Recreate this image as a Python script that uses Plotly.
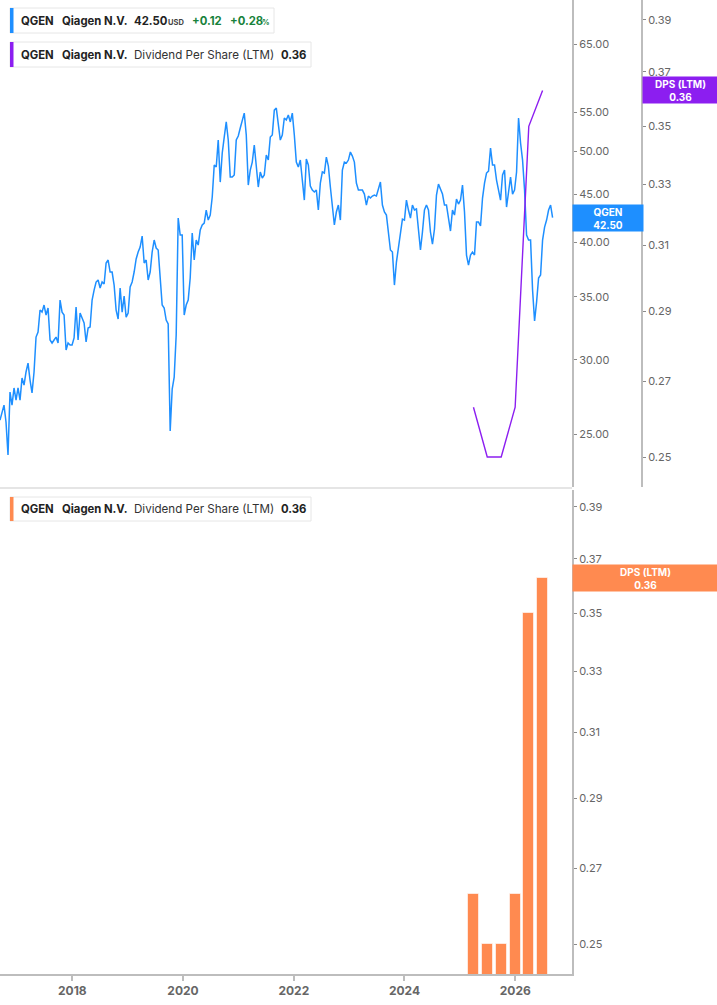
import math
import pandas as pd
import plotly.graph_objects as go

# ---------------- data ----------------
price_close = [
    25.87, 26.39, 26.84, 25.75, 23.75, 27.71, 26.84, 27.99, 27.17, 27.99,
    27.17, 28.68, 28.19, 29.11, 29.75, 28.54, 27.65, 29.11, 31.71, 32.10,
    33.88, 33.71, 34.30, 33.47, 34.05, 31.48, 31.25, 31.48, 31.71, 31.25,
    34.72, 33.71, 33.47, 30.72, 31.25, 31.10, 31.10, 31.64, 34.13, 31.48,
    33.63, 33.22, 32.82, 31.33, 32.42, 32.50, 34.72, 35.58, 36.29, 36.47,
    35.76, 36.29, 36.11, 38.02, 38.30, 37.19, 37.19, 36.02, 33.88, 33.14,
    35.76, 33.71, 35.06, 33.30, 33.63, 35.85, 36.29, 37.19, 38.40, 39.06,
    39.54, 40.62, 38.02, 38.30, 36.47, 37.19, 39.06, 40.22, 39.44, 39.25,
    36.83, 34.30, 34.05, 33.06, 32.74, 25.19, 27.92, 28.75, 31.87, 42.45,
    40.72, 40.72, 33.47, 34.30, 34.72, 36.65, 40.92, 38.30, 40.22, 39.73,
    41.22, 41.73, 41.93, 43.29, 42.24, 42.76, 44.69, 48.34, 48.10, 51.39,
    46.36, 49.78, 51.77, 53.72, 51.39, 46.94, 46.94, 47.17, 51.39, 51.90,
    52.93, 53.98, 54.90, 52.03, 46.02, 47.75, 48.69, 50.77, 48.34, 45.80,
    47.52, 46.82, 47.17, 49.54, 48.93, 51.77, 52.03, 55.30, 55.57, 53.46,
    51.39, 52.03, 54.24, 53.98, 54.64, 53.72, 54.90, 52.03, 48.69, 48.10,
    48.93, 46.59, 44.36, 49.05, 48.34, 45.91, 45.46, 45.24, 45.46, 43.29,
    46.25, 47.52, 47.40, 49.29, 48.22, 45.80, 43.82, 41.73, 43.08, 43.82,
    42.24, 47.75, 48.69, 48.57, 48.93, 49.90, 49.41, 48.69, 46.25, 45.46,
    45.46, 45.46, 45.02, 43.82, 44.80, 44.58, 44.80, 44.91, 44.80, 45.46,
    46.36, 43.82, 43.08, 42.76, 41.02, 39.25, 39.06, 36.02, 38.11, 39.44,
    41.02, 42.34, 42.24, 44.36, 43.29, 42.45, 43.82, 43.29, 43.40, 41.42,
    39.25, 41.02, 43.29, 43.82, 43.29, 41.02, 39.83, 41.32, 44.91, 46.13,
    45.46, 45.02, 43.82, 43.82, 42.45, 41.12, 43.29, 42.76, 44.47, 43.93,
    44.36, 46.02, 43.08, 38.77, 37.83, 38.77, 39.06, 38.77, 42.03, 42.03,
    41.63, 44.58, 46.25, 47.40, 47.63, 50.40, 48.34, 48.34, 46.59, 45.46,
    44.36, 47.17, 47.75, 43.61, 45.46, 46.94, 45.02, 45.46, 47.52, 54.24,
    51.02, 48.93, 45.46, 40.72, 40.22, 40.22, 35.58, 32.98, 34.55, 36.65,
    36.92, 40.22, 41.52, 42.24, 43.29, 43.82, 42.50,
]
price_first_date = "2016-09-11"
price_last_date = "2026-09-04"
prev_close = 42.38

dps_dates = ["2025-03-31", "2025-06-30", "2025-09-30", "2025-12-31", "2026-03-31", "2026-06-30"]
dps_values = [0.263, 0.250, 0.250, 0.263, 0.350, 0.363]

price_ticks = [25, 30, 35, 40, 45, 50, 55, 65]
dps_ticks = [0.25, 0.27, 0.29, 0.31, 0.33, 0.35, 0.37, 0.39]
year_ticks = ["2018-01-01", "2020-01-01", "2022-01-01", "2024-01-01", "2026-01-01"]
year_labels = ["2018", "2020", "2022", "2024", "2026"]

ticker = "QGEN"
company = "Qiagen N.V."
metric = "Dividend Per Share (LTM)"

# ---------------- style ----------------
BLUE = "#1E8FFF"
PURPLE = "#8C1EF0"
ORANGE = "#FF8A50"
GREEN = "#17823B"
AXIS = "#BDBDBD"
TICKTXT = "#666666"
FONT = "Inter"

W, H = 717, 1005
ML, MR, MT, MB = 0, 75, 0, 31
PW, PH = W - ML - MR, H - MT - MB  # 642 x 974


def px_x(px):
    return (px - ML) / PW


def px_y(py):
    return (PH - (py - MT)) / PH


xdom = [0, px_x(572)]
top_dom = [px_y(487), 1.0]
bot_dom = [0.0, px_y(490)]

x_range = ["2016-09-11", "2027-01-10"]

price_dates = pd.date_range(price_first_date, price_last_date, periods=len(price_close))
last_price = price_close[-1]
chg = last_price - prev_close
chg_pct = chg / prev_close * 100
last_dps = dps_values[-1]

fig = go.Figure()
fig.add_trace(go.Scatter(x=price_dates, y=price_close, mode="lines",
                         line=dict(color=BLUE, width=1.5), xaxis="x", yaxis="y",
                         showlegend=False))
fig.add_trace(go.Scatter(x=pd.to_datetime(dps_dates), y=dps_values, mode="lines",
                         line=dict(color=PURPLE, width=1.4), xaxis="x", yaxis="y2",
                         showlegend=False))
fig.add_trace(go.Bar(x=pd.to_datetime(dps_dates), y=dps_values, xaxis="x2", yaxis="y3",
                     marker=dict(color=ORANGE, line=dict(color="rgba(255,255,255,0.6)", width=1)),
                     width=72 * 86400000, showlegend=False))

tickfont = dict(family=FONT, size=11, color=TICKTXT)
common_y = dict(type="log", side="right", showgrid=False, zeroline=False,
                showline=True, linecolor=AXIS, linewidth=2,
                ticks="outside", ticklen=3, tickcolor="#8a8a8a", tickwidth=1,
                tickfont=tickfont)

fig.update_layout(
    width=W, height=H,
    margin=dict(l=ML, r=MR, t=MT, b=MB, pad=0),
    paper_bgcolor="white", plot_bgcolor="white",
    font=dict(family=FONT),
    bargap=0,
    hovermode=False,
    xaxis=dict(domain=xdom, range=x_range, anchor="y", showticklabels=False,
               showgrid=False, zeroline=False, showline=False, ticks=""),
    xaxis2=dict(domain=xdom, range=x_range, anchor="y3", matches="x",
                showgrid=False, zeroline=False, showline=True, linecolor=AXIS, linewidth=2,
                tickvals=pd.to_datetime(year_ticks), ticktext=year_labels,
                ticks="outside", ticklen=5, tickcolor=AXIS, tickwidth=1.5,
                tickfont=dict(family=FONT, size=12, color=TICKTXT, weight="bold")),
    yaxis=dict(domain=top_dom, anchor="x",
               range=[math.log10(21.96), math.log10(72.43)],
               tickvals=price_ticks, ticktext=[f"{v:.2f}" for v in price_ticks],
               **common_y),
    yaxis2=dict(overlaying="y", anchor="free", position=1.0,
                range=[math.log10(0.2425), math.log10(0.3980)],
                tickvals=dps_ticks, ticktext=[f"{v:.2f}" for v in dps_ticks],
                **common_y),
    yaxis3=dict(domain=bot_dom, anchor="x2",
                range=[math.log10(0.2425), math.log10(0.3968)],
                tickvals=dps_ticks, ticktext=[f"{v:.2f}" for v in dps_ticks],
                **common_y),
)

shapes = []
# panel separator
shapes.append(dict(type="line", xref="paper", yref="paper", x0=0, x1=px_x(572),
                   y0=px_y(488), y1=px_y(488), line=dict(color="#DDDDDD", width=1.5)))


def legend_box(x0, x1, y0, y1, color):
    shapes.append(dict(type="rect", xref="paper", yref="paper",
                       x0=px_x(x0), x1=px_x(x1), y0=px_y(y1), y1=px_y(y0),
                       line=dict(color="#E6E6E6", width=1), fillcolor="white", layer="above"))
    shapes.append(dict(type="rect", xref="paper", yref="paper",
                       x0=px_x(x0), x1=px_x(x0 + 3.5), y0=px_y(y1), y1=px_y(y0),
                       line=dict(width=0), fillcolor=color, layer="above"))


legend_box(10, 274, 8, 33, BLUE)
legend_box(10, 311, 42, 67, PURPLE)
legend_box(10, 311, 497, 521, ORANGE)

annotations = []
BOLD_SIZE = 11.3
REG_SIZE = 11.6


def txt(text, px, py, size=BOLD_SIZE, color="#222222", bold=True):
    t = f"<b>{text}</b>" if bold else text
    annotations.append(dict(text=t, xref="paper", yref="paper", x=px_x(px), y=px_y(py),
                            xanchor="left", yanchor="middle", showarrow=False,
                            font=dict(family=FONT, size=size, color=color), borderpad=0))


# legend row 1
txt(ticker, 20, 21)
txt(company, 61, 21)
txt(f"{last_price:.2f}", 133, 21)
txt("USD", 167, 22.5, size=7.5, color="#444444")
txt(f"{chg:+.2f}", 191, 21, color=GREEN)
txt(f"{chg_pct:+.2f}", 229, 21, color=GREEN)
txt("%", 261, 22.5, size=7.5, color=GREEN)
# legend row 2
txt(ticker, 20, 55)
txt(company, 61, 55)
txt(metric, 133, 55, size=REG_SIZE, bold=False, color="#333333")
txt(f"{last_dps:.2f}", 280, 55)
# legend bottom
txt(ticker, 20, 509)
txt(company, 61, 509)
txt(metric, 133, 509, size=REG_SIZE, bold=False, color="#333333")
txt(f"{last_dps:.2f}", 280, 509)

# axis value labels
annotations.append(dict(text=f"<b>{ticker}<br>{last_price:.2f}</b>", xref="paper", yref="y",
                        x=px_x(572), y=math.log10(last_price), xanchor="left", yanchor="middle",
                        width=70, height=26, bgcolor=BLUE, showarrow=False, borderpad=0,
                        font=dict(family=FONT, size=10, color="white")))
annotations.append(dict(text=f"<b>DPS (LTM)<br>{last_dps:.2f}</b>", xref="paper", yref="y2",
                        x=px_x(642), y=math.log10(last_dps), xanchor="left", yanchor="middle",
                        width=75, height=26, bgcolor=PURPLE, showarrow=False, borderpad=0,
                        font=dict(family=FONT, size=10, color="white")))
annotations.append(dict(text=f"<b>DPS (LTM)<br>{last_dps:.2f}</b>", xref="paper", yref="y3",
                        x=px_x(572), y=math.log10(last_dps), xanchor="left", yanchor="middle",
                        width=145, height=26, bgcolor=ORANGE, showarrow=False, borderpad=0,
                        font=dict(family=FONT, size=10, color="white")))

fig.update_layout(shapes=shapes, annotations=annotations)
fig.write_html("out.html", config={"displayModeBar": False},
               post_script="document.body.style.margin='0px';")
